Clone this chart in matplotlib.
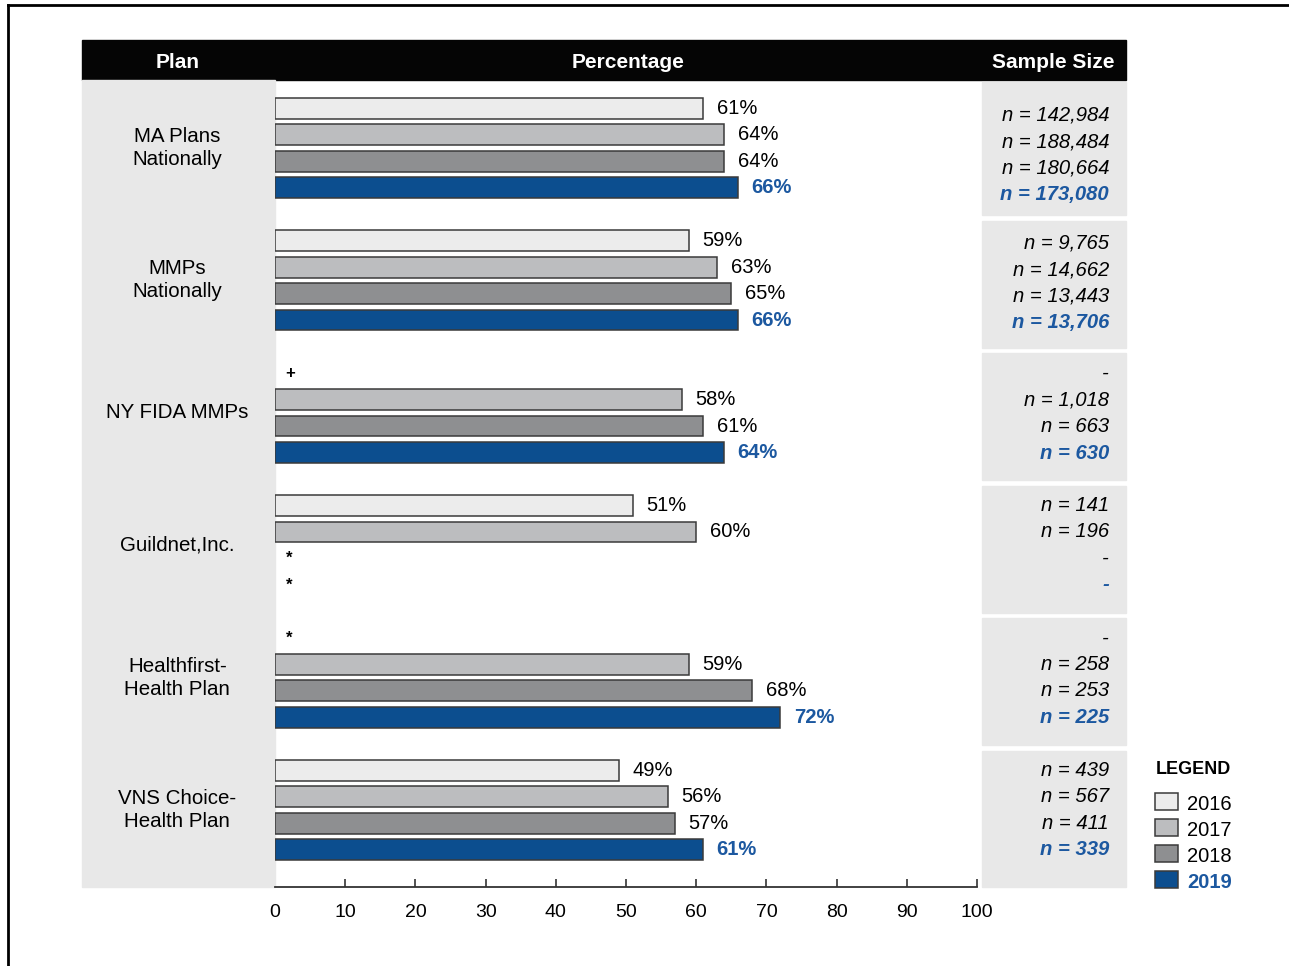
import numpy as np
import matplotlib
matplotlib.use('Agg')
import matplotlib.pyplot as plt
from matplotlib.patches import Rectangle
from matplotlib.lines import Line2D
from matplotlib.transforms import blended_transform_factory

plt.rcParams['font.family'] = ['Liberation Sans', 'DejaVu Sans']

nan = np.nan
plans = ['MA Plans\nNationally', 'MMPs\nNationally', 'NY FIDA MMPs',
         'Guildnet,Inc.', 'Healthfirst-\nHealth Plan', 'VNS Choice-\nHealth Plan']
years = ['2016', '2017', '2018', '2019']
pct_2016 = [61, 59, nan, 51, nan, 49]
pct_2017 = [64, 63, 58, 60, 59, 56]
pct_2018 = [64, 65, 61, nan, 68, 57]
pct_2019 = [66, 66, 64, nan, 72, 61]
n_2016 = ['142,984', '9,765', None, '141', None, '439']
n_2017 = ['188,484', '14,662', '1,018', '196', '258', '567']
n_2018 = ['180,664', '13,443', '663', None, '253', '411']
n_2019 = ['173,080', '13,706', '630', None, '225', '339']
# symbol shown in place of a missing bar
note_2016 = [None, None, '+', None, '*', None]
note_2017 = [None, None, None, None, None, None]
note_2018 = [None, None, None, '*', None, None]
note_2019 = [None, None, None, '*', None, None]

pcts = [pct_2016, pct_2017, pct_2018, pct_2019]
ns = [n_2016, n_2017, n_2018, n_2019]
notes = [note_2016, note_2017, note_2018, note_2019]
colors = ['#ececec', '#bcbdbf', '#8e8f91', '#0c4e8f']
blue_txt = '#1c58a0'

W, H = 1289, 966
fig = plt.figure(figsize=(W / 100, H / 100), dpi=100)

def fx(x):
    return x / W

def fy(y):
    return 1 - y / H

# outer frame (top and left edges)
fig.add_artist(Line2D([fx(8), 1], [fy(5), fy(5)], color='black', lw=2))
fig.add_artist(Line2D([fx(8), fx(8)], [fy(5), 0], color='black', lw=2))

# header bar
fig.add_artist(Rectangle((fx(82), fy(80)), fx(1126) - fx(82), fy(40) - fy(80),
                         transform=fig.transFigure, color='#050505', zorder=0))
for txt, x in [('Plan', 178), ('Percentage', 628), ('Sample Size', 1053)]:
    fig.text(fx(x), fy(61), txt, color='white', fontsize=15, fontweight='bold',
             ha='center', va='center_baseline')

# plan column
fig.add_artist(Rectangle((fx(82), fy(887)), fx(275) - fx(82), fy(80) - fy(887),
                         transform=fig.transFigure, color='#e8e8e8', zorder=0))

ax = fig.add_axes([fx(275), fy(887), fx(977) - fx(275), fy(80) - fy(887)])
ax.patch.set_visible(False)
ax.set_xlim(0, 100)
ax.set_ylim(29.4, -1.06)
for s in ['top', 'right', 'left']:
    ax.spines[s].set_visible(False)
ax.spines['bottom'].set_color('#333333')
ax.spines['bottom'].set_linewidth(1.3)
ax.set_yticks([])
ax.set_xticks(range(0, 101, 10))
ax.tick_params(axis='x', direction='in', length=6, width=1.2, color='#333333',
               labelsize=14, pad=12)
ax.xaxis.get_major_ticks()[0].tick1line.set_visible(False)

trans = blended_transform_factory(fig.transFigure, ax.transData)
gaps = [5 * g + 4.15 for g in range(5)]
box_top = [-1.0] + [gp + 0.1 for gp in gaps]
box_bot = [gp - 0.1 for gp in gaps] + [29.4]
text_shift = [0.27, 0.1, 0.02, 0, 0, 0]

for g, plan in enumerate(plans):
    yc = 5 * g + 1.5
    ax.text(-13.9, yc, plan, ha='center', va='center', fontsize=14.8,
            linespacing=1.25, clip_on=False)
    fig.add_artist(Rectangle((fx(982), box_bot[g]), fx(1126) - fx(982),
                             box_top[g] - box_bot[g], transform=trans,
                             color='#e8e8e8', zorder=0, clip_on=False))
    for k in range(4):
        y = 5 * g + k
        v = pcts[k][g]
        is_blue = k == 3
        tc = blue_txt if is_blue else 'black'
        fw = 'bold' if is_blue else 'normal'
        if not np.isnan(v):
            ax.barh(y, v, height=0.79, color=colors[k], edgecolor='#3a3a3a',
                    linewidth=1.1)
            ax.text(v + 1.9, y, f'{v:.0f}%', va='center', ha='left',
                    fontsize=14.5, color=tc, fontweight=fw)
        elif notes[k][g]:
            ax.text(1.5, y, notes[k][g], va='center', ha='left', fontsize=12,
                    fontweight='bold', color='black')
        n = ns[k][g]
        label = f'n = {n}' if n else '-'
        ax.text(fx(1109), y + text_shift[g], label, transform=trans, ha='right',
                va='center', fontsize=14.6, style='italic', color=tc,
                fontweight=fw, clip_on=False)

# legend
fig.text(fx(1156), fy(767), 'LEGEND', fontsize=13, fontweight='bold',
         ha='left', va='center_baseline')
for k, yr in enumerate(years):
    top = 793 + 26 * k
    fig.add_artist(Rectangle((fx(1155), fy(top + 17)), fx(1178) - fx(1155),
                             fy(top) - fy(top + 17), transform=fig.transFigure,
                             facecolor=colors[k], edgecolor='#3a3a3a', lw=1.1))
    fig.text(fx(1187), fy(top + 10), yr, fontsize=14.5, ha='left',
             va='center_baseline', color=blue_txt if k == 3 else 'black',
             fontweight='bold' if k == 3 else 'normal')

fig.savefig('out.png', dpi=100)
